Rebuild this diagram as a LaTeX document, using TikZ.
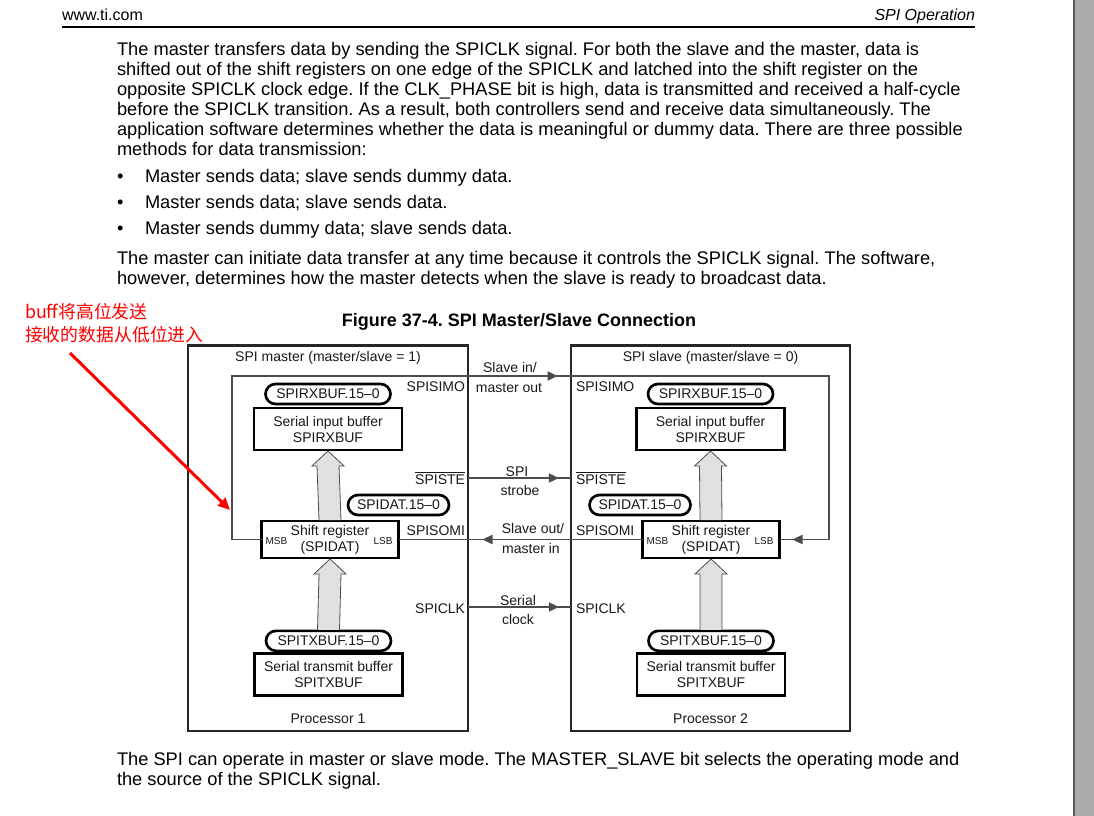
\documentclass[tikz,border=0pt]{standalone}
\usepackage{fontspec}
\setmainfont{Liberation Sans}
\newfontfamily\cjk{Noto Sans CJK SC}
\usetikzlibrary{positioning, arrows.meta, calc, decorations.markings}
\frenchspacing

\begin{document}
\begin{tikzpicture}[x=0.75pt, y=-0.75pt, >={Triangle[length=7.5pt,width=7pt]},
    every node/.style={inner sep=0pt, outer sep=0pt},
    bodytext/.style={anchor=base west, font=\fontsize{13.7}{15}\selectfont},
    figtext/.style={font=\fontsize{10.5}{12}\selectfont, text=black!90},
    cpu/.style={draw=black!85, line width=1.75pt, minimum width=209.6pt, minimum height=289pt},
    regbox/.style={draw, line width=2pt, figtext, align=center, minimum width=111pt, minimum height=31.5pt},
    shiftbox/.style={regbox, minimum width=102.75pt, minimum height=27.75pt},
    pill/.style={draw, line width=2pt, rounded corners=7.5pt, figtext, minimum height=15pt},
    pinname/.style={figtext, anchor=base},
    bitlabel/.style={font=\fontsize{7.5}{8}\selectfont, text=black!90},
    sig/.style={draw=black!70, line width=0.8pt},
    hollow/.style={draw=black!70, line width=0.6pt, fill=black!12},
    midarrow/.style={postaction={decorate}, decoration={markings, mark=at position #1 with {\arrow{>}}}},
    redtext/.style={anchor=base west, text=red, font=\cjk\fontsize{13.4}{15}\selectfont}]

    % page frame
    \useasboundingbox (0,0) rectangle (1094,816);
    \fill[white] (0,0) rectangle (1094,816);
    \fill[black!33] (1074,0) rectangle (1094,816);
    \draw[black!65, line width=0.9pt] (1074,0) -- (1074,816);

    % running head
    \node[anchor=base west, font=\fontsize{12}{14}\selectfont] (site) at (62,21) {www.ti.com};
    \node[anchor=base east, font=\fontsize{12}{14}\itshape] (section) at (975,21) {SPI Operation};
    \draw[line width=2.2pt] (62,27) -- (975,27);

    % text above the figure
    \node[bodytext] (par1a) at (117,56) {The master transfers data by sending the SPICLK signal. For both the slave and the master, data is};
    \node[bodytext] (par1b) at (117,76) {shifted out of the shift registers on one edge of the SPICLK and latched into the shift register on the};
    \node[bodytext] (par1c) at (117,96) {opposite SPICLK clock edge. If the CLK\_PHASE bit is high, data is transmitted and received a half-cycle};
    \node[bodytext] (par1d) at (117,116) {before the SPICLK transition. As a result, both controllers send and receive data simultaneously. The};
    \node[bodytext] (par1e) at (117,136) {application software determines whether the data is meaningful or dummy data. There are three possible};
    \node[bodytext] (par1f) at (117,156) {methods for data transmission:};

    \node[bodytext] (dot1) at (117,183) {\textbullet};
    \node[bodytext] (item1) at (145,183) {Master sends data; slave sends dummy data.};
    \node[bodytext] (dot2) at (117,209) {\textbullet};
    \node[bodytext] (item2) at (145,209) {Master sends data; slave sends data.};
    \node[bodytext] (dot3) at (117,235) {\textbullet};
    \node[bodytext] (item3) at (145,235) {Master sends dummy data; slave sends data.};

    \node[bodytext] (par2a) at (117,265) {The master can initiate data transfer at any time because it controls the SPICLK signal. The software,};
    \node[bodytext] (par2b) at (117,285) {however, determines how the master detects when the slave is ready to broadcast data.};

    % caption
    \node[anchor=base, font=\fontsize{13.5}{15}\bfseries] (caption) at (519,326) {Figure 37-4. SPI Master/Slave Connection};

    % the two processors
    \node[cpu] (master) at (328,538) {};
    \node[cpu] (slave) at (710.5,538) {};
    \node[pinname] (mhead) at (328,361) {SPI master (master/slave = 1)};
    \node[pinname] (shead) at (710.5,361) {SPI slave (master/slave = 0)};
    \node[pinname] (mfoot) at (328,723) {Processor 1};
    \node[pinname] (sfoot) at (710.5,723) {Processor 2};

    % master registers
    \node[regbox] (mrxbox) at (328,429) {Serial input buffer\\SPIRXBUF};
    \node[pill, minimum width=93.75pt] (mrxpill) [above=3pt of mrxbox] {SPIRXBUF.15--0};
    \node[shiftbox] (mshift) at (330,539.5) {Shift register\\(SPIDAT)};
    \node[pill, minimum width=75.75pt] (mdatpill) at (398.5,505) {SPIDAT.15--0};
    \node[regbox] (mtxbox) at (328.5,674.5) {Serial transmit buffer\\SPITXBUF};
    \node[pill, minimum width=93.75pt] (mtxpill) [above=2pt of mtxbox] {SPITXBUF.15--0};
    \node[bitlabel, anchor=base west] (mmsb) at ($(mshift.west)+(4,5)$) {MSB};
    \node[bitlabel, anchor=base east] (mlsb) at ($(mshift.east)+(-6,5)$) {LSB};

    % slave registers
    \node[regbox] (srxbox) at (710.5,429) {Serial input buffer\\SPIRXBUF};
    \node[pill, minimum width=93.75pt] (srxpill) [above=3pt of srxbox] {SPIRXBUF.15--0};
    \node[shiftbox] (sshift) at (711,539.5) {Shift register\\(SPIDAT)};
    \node[pill, minimum width=75.75pt] (sdatpill) at (640,505) {SPIDAT.15--0};
    \node[regbox] (stxbox) at (711,674.5) {Serial transmit buffer\\SPITXBUF};
    \node[pill, minimum width=93.75pt] (stxpill) [above=2pt of stxbox] {SPITXBUF.15--0};
    \node[bitlabel, anchor=base west] (smsb) at ($(sshift.west)+(4,5)$) {MSB};
    \node[bitlabel, anchor=base east] (slsb) at ($(sshift.east)+(-6,5)$) {LSB};

    % parallel transfers
    \draw[hollow] ($(mshift.north)+(-11,-1)$) -- ($(mrxbox.south)+(-11,16)$) -- ($(mrxbox.south)+(-16,16)$) -- ($(mrxbox.south)+(0,1)$)
        -- ($(mrxbox.south)+(16,16)$) -- ($(mrxbox.south)+(11,16)$) -- ($(mshift.north)+(11,-1)$);
    \draw[hollow] ($(mtxpill.north)+(-11,-1)$) -- ($(mshift.south)+(-11,16)$) -- ($(mshift.south)+(-16,16)$) -- ($(mshift.south)+(0,1)$)
        -- ($(mshift.south)+(16,16)$) -- ($(mshift.south)+(11,16)$) -- ($(mtxpill.north)+(11,-1)$);
    \draw[hollow] ($(sshift.north)+(-11,-1)$) -- ($(srxbox.south)+(-11,16)$) -- ($(srxbox.south)+(-16,16)$) -- ($(srxbox.south)+(0,1)$)
        -- ($(srxbox.south)+(16,16)$) -- ($(srxbox.south)+(11,16)$) -- ($(sshift.north)+(11,-1)$);
    \draw[hollow] ($(stxpill.north)+(-11,-1)$) -- ($(sshift.south)+(-11,16)$) -- ($(sshift.south)+(-16,16)$) -- ($(sshift.south)+(0,1)$)
        -- ($(sshift.south)+(16,16)$) -- ($(sshift.south)+(11,16)$) -- ($(stxpill.north)+(11,-1)$);

    % serial lines
    \coordinate (simoL) at (232,376);
    \coordinate (simoR) at (829,376);
    \draw[sig, postaction={decorate}, decoration={markings,
            mark=at position 388.9pt with {\arrow{>}},
            mark=at position -9.75pt with {\arrow{>}}}]
        (mshift.west) -| (simoL) -- (simoR) |- (sshift.east);
    \draw[sig, midarrow=-9pt] (master.east |- 0,478) -- (slave.west |- 0,478);
    \draw[sig, midarrow=120pt] (sshift.west) -- (mshift.east);
    \draw[sig, midarrow=-9pt] (master.east |- 0,607) -- (slave.west |- 0,607);

    % pin names
    \node[figtext, anchor=base east] (msimo) at (465,391) {SPISIMO};
    \node[figtext, anchor=base east] (mste) at (465,484) {$\overline{\mbox{SPISTE}}$};
    \node[figtext, anchor=base east] (msomi) at (465,535) {SPISOMI};
    \node[figtext, anchor=base east] (mclk) at (465,613) {SPICLK};
    \node[figtext, anchor=base west] (ssimo) at (576,391) {SPISIMO};
    \node[figtext, anchor=base west] (sste) at (576,484) {$\overline{\mbox{SPISTE}}$};
    \node[figtext, anchor=base west] (ssomi) at (576,535) {SPISOMI};
    \node[figtext, anchor=base west] (sclk) at (576,613) {SPICLK};

    % line names
    \node[pinname] (simo1) at (510,372) {Slave in/};
    \node[pinname] (simo2) at (509,392) {master out};
    \node[pinname] (ste1) at (517,476) {SPI};
    \node[pinname] (ste2) at (520,495) {strobe};
    \node[pinname] (somi1) at (533,533) {Slave out/};
    \node[pinname] (somi2) at (531,553) {master in};
    \node[pinname] (clk1) at (518,605) {Serial};
    \node[pinname] (clk2) at (518,624) {clock};

    % red note
    \node[redtext] (note1) at (25,318) {buff将高位发送};
    \node[redtext] (note2) at (25,341) {接收的数据从低位进入};
    \coordinate (noteTail) at (70,353);
    \coordinate (noteTip) at (230,510);
    \draw[red, line width=2.25pt, -{Triangle[length=9pt,width=8pt]}] (noteTail) -- (noteTip);

    % text below the figure
    \node[bodytext] (par3a) at (117,765) {The SPI can operate in master or slave mode. The MASTER\_SLAVE bit selects the operating mode and};
    \node[bodytext] (par3b) at (117,785) {the source of the SPICLK signal.};
\end{tikzpicture}
\end{document}
